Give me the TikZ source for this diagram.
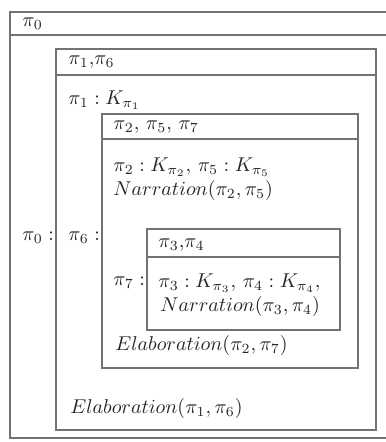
\documentclass[tikz,border=0pt]{standalone}
\begin{document}
\begin{tikzpicture}[x=0.5pt,y=-0.5pt,
  boxline/.style={draw=black!55,line width=0.6pt},
  lbl/.style={anchor=west,inner sep=0pt,text=black!85,font=\fontsize{10}{12}\selectfont}]
\useasboundingbox (0,0) rectangle (385,442);
\fill[white] (0,0) rectangle (385,442);
% outer box pi0
\draw[boxline] (10,12) rectangle (390,438);
\draw[boxline] (10,35) -- (390,35);
% box pi1,pi6
\draw[boxline] (56,49) rectangle (376,430);
\draw[boxline] (56,75) -- (376,75);
% box pi2,pi5,pi7
\draw[boxline] (102,114) rectangle (358,368);
\draw[boxline] (102,139) -- (358,139);
% box pi3,pi4
\draw[boxline] (147,229) rectangle (340,330);
\draw[boxline] (147,257) -- (340,257);
% texts
\node[lbl] (h0) at (22,24) {$\pi_0$};
\node[lbl] (h1) at (68,62) {$\pi_1,\!\pi_6$};
\node[lbl] (k1) at (68,100) {$\pi_1 : K_{\pi_1}$};
\node[lbl] (h2) at (113,127) {$\pi_2,\,\pi_5,\,\pi_7$};
\node[lbl] (k2) at (113,167) {$\pi_2 : K_{\pi_2},\,\pi_5 : K_{\pi_5}$};
\node[lbl] (n2) at (113,191) {$Narration(\pi_2,\pi_5)$};
\node[lbl] (p0) at (22,238) {$\pi_0 :$};
\node[lbl] (p6) at (68,238) {$\pi_6 :$};
\node[lbl] (h3) at (158,245) {$\pi_3,\!\pi_4$};
\node[lbl] (p7) at (113,283) {$\pi_7 :$};
\node[lbl] (k3) at (158,283) {$\pi_3 : K_{\pi_3},\,\pi_4 : K_{\pi_4},$};
\node[lbl] (n3) at (160,306) {$Narration(\pi_3,\pi_4)$};
\node[lbl] (e2) at (115,345) {$Elaboration(\pi_2,\pi_7)$};
\node[lbl] (e1) at (70,408) {$Elaboration(\pi_1,\pi_6)$};
\end{tikzpicture}
\end{document}
